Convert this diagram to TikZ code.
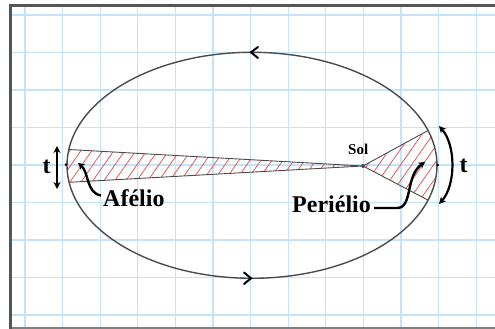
\documentclass[tikz,border=0pt]{standalone}
\usepackage{fontspec}
\setmainfont{Liberation Serif}
\usetikzlibrary{arrows.meta,patterns.meta}
\definecolor{gridblue}{RGB}{195,228,248}
\definecolor{orbitgray}{RGB}{75,75,75}
\definecolor{hatchred}{RGB}{228,70,70}
\definecolor{sunblue}{RGB}{30,90,140}
\definecolor{framegray}{RGB}{85,85,85}
\begin{document}
\begin{tikzpicture}[x=1pt,y=-1pt,
  gridline/.style={draw=gridblue,line width=1.3pt},
  framestyle/.style={draw=framegray,line width=3pt},
  orbit/.style={draw=orbitgray,line width=1.4pt},
  triline/.style={draw=orbitgray,line width=0.9pt},
  hatch/.style={pattern={Lines[angle=55,distance=9pt,line width=0.7pt]},pattern color=hatchred},
  chev/.style={draw=black,line width=2pt,line join=miter,line cap=round},
  bigarrow/.style={draw=black,line width=2.2pt,{Stealth[length=7pt,width=7pt]}-{Stealth[length=7pt,width=7pt]}},
  leader/.style={draw=black,line width=2.4pt,-{Stealth[length=6.5pt,width=7pt]}},
  lbl/.style={font=\bfseries\fontsize{24}{24}\selectfont,inner sep=0pt,anchor=base west},
  sollbl/.style={font=\bfseries\fontsize{15}{15}\selectfont,inner sep=0pt,anchor=base west},
  dot/.style={circle,fill=black,inner sep=0pt,minimum size=3pt},
  sundot/.style={circle,fill=sunblue,inner sep=0pt,minimum size=4pt}]
\useasboundingbox (0,0) rectangle (495,329);
\fill[white] (0,0) rectangle (495,329);
% grid
\foreach \i in {0,...,12} \draw[gridline] ({25+37.6*\i},6) -- ({25+37.6*\i},328);
\foreach \j in {0,...,8} \draw[gridline] (10,{15+37.5*\j}) -- (495,{15+37.5*\j});
% frame
\draw[draw=gray,line width=1.5pt] (10,328) -- (495,328);
\draw[framestyle] (10,329) -- (10,6) -- (495,6);
% hatched sectors
\begin{scope}
\clip (252,165.3) ellipse [x radius=185pt, y radius=113pt];
\fill[hatch] (363,166) -- (60,149) -- (60,182.8) -- cycle;
\fill[hatch] (363,166) -- (445,121.2) -- (445,209) -- cycle;
\end{scope}
% orbit
\draw[orbit] (252,165.3) ellipse [x radius=185pt, y radius=113pt];
% orbit direction chevrons
\draw[chev] (258,47) -- (251,52.3) -- (258,58);
\draw[chev] (244,272.5) -- (251,278.3) -- (244,284);
% points
\node[sundot] (sol) at (363,166) {};
\node[dot] (aph) at (66,164.5) {};
\node[dot] (per) at (437.5,165) {};
\coordinate (a1) at (68.8,149.5);
\coordinate (a2) at (69.1,182.3);
\coordinate (p1) at (428,130.5);
\coordinate (p2) at (428,200.1);
\draw[triline] (a1) -- (sol.center) -- (a2);
\draw[triline] (p1) -- (sol.center) -- (p2);
% labels
\node[sollbl] (soltxt) at (348,154) {Sol};
\node[lbl] (tl) at (42.5,173) {t};
\node[lbl] (tr) at (459.5,172) {t};
\node[lbl] (afelio) at (103,206.5) {Afélio};
\node[lbl] (perielio) at (292,212.5) {Periélio};
% time arrows
\coordinate (tl1) at (57,146);
\coordinate (tl2) at (57,189);
\draw[bigarrow] (tl1) -- (tl2);
\coordinate (tr1) at (439,126);
\coordinate (tr2) at (439,204);
\draw[bigarrow] (tr1) .. controls (456,145) and (456,185) .. (tr2);
% leaders
\coordinate (la) at (101,195.5);
\coordinate (lat) at (78,163);
\draw[leader] (la) .. controls (86,193) and (89,172) .. (lat);
\coordinate (lp) at (374,208);
\coordinate (lpm) at (397,208);
\coordinate (lpt) at (425,162);
\draw[leader] (lp) -- (lpm) .. controls (413,208) and (405,176) .. (lpt);
\end{tikzpicture}
\end{document}
